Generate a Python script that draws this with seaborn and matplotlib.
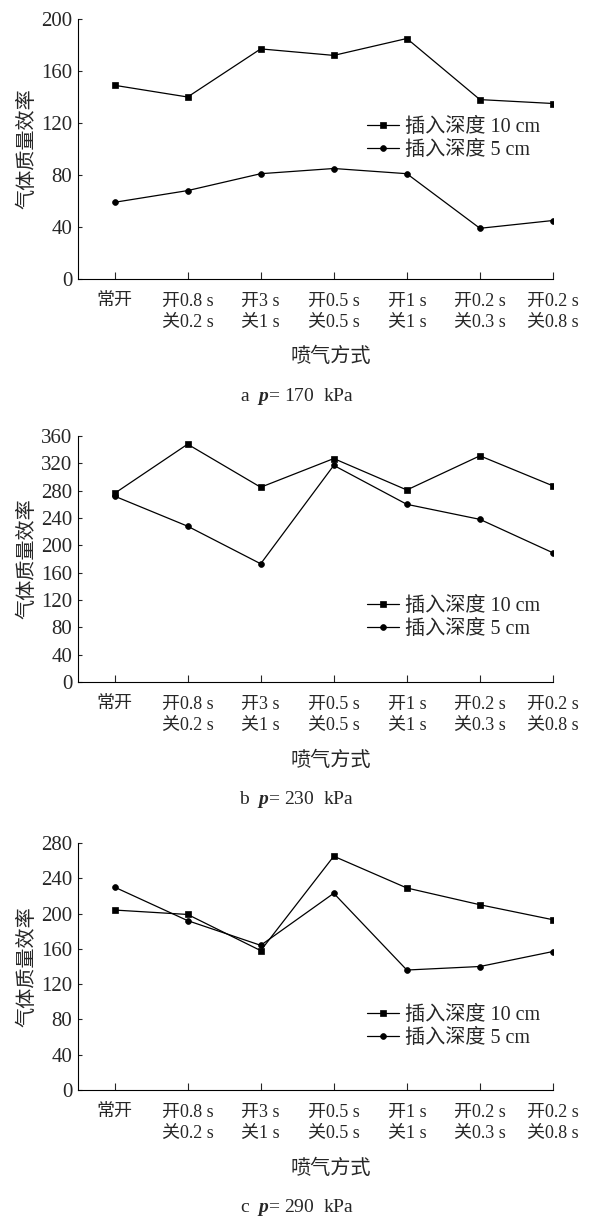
import matplotlib
matplotlib.use("Agg")
import matplotlib.pyplot as plt
import numpy as np
import pandas as pd
import seaborn as sns

# Injection modes (x categories)
modes = ["常开", "开0.8 s\n关0.2 s", "开3 s\n关1 s", "开0.5 s\n关0.5 s",
         "开1 s\n关1 s", "开0.2 s\n关0.3 s", "开0.2 s\n关0.8 s"]
series_names = ["插入深度 10 cm", "插入深度 5 cm"]

# Gas mass efficiency, p = 170 kPa
a_depth10 = [149, 140, 177, 172, 185, 138, 135]
a_depth5 = [59, 68, 81, 85, 81, 39, 45]
# p = 230 kPa
b_depth10 = [276, 348, 285, 327, 281, 331, 287]
b_depth5 = [272, 228, 173, 317, 260, 238, 189]
# p = 290 kPa
c_depth10 = [204, 199, 158, 265, 229, 210, 193]
c_depth5 = [230, 192, 164, 223, 136, 140, 157]

captions = ["a  $p$= 170  kPa", "b  $p$= 230  kPa", "c  $p$= 290  kPa"]
y_max = [200, 360, 280]
y_label = "气体质量效率"
x_label = "喷气方式"

sns.set_style("ticks")
plt.rcParams["font.family"] = ["Liberation Serif", "Noto Sans CJK SC"]
plt.rcParams["mathtext.fontset"] = "custom"
plt.rcParams["mathtext.it"] = "Liberation Serif:italic:bold"
plt.rcParams["mathtext.rm"] = "Liberation Serif"

W, H = 594, 1220
fig = plt.figure(figsize=(W / 100, H / 100), dpi=100)

# axes boxes in pixels: (left, top, right, bottom)
boxes = [(78, 19, 553, 279), (78, 436, 553, 682), (78, 843, 553, 1090)]
legend_y = [139, 618, 1027]

panels = [(a_depth10, a_depth5), (b_depth10, b_depth5), (c_depth10, c_depth5)]
xpos = np.arange(len(modes))

for i, ((d10, d5), (l, t, r, b)) in enumerate(zip(panels, boxes)):
    ax = fig.add_axes([l / W, 1 - b / H, (r - l) / W, (b - t) / H])
    df = pd.DataFrame({
        "x": np.concatenate([xpos, xpos]),
        "y": np.concatenate([d10, d5]),
        "series": [series_names[0]] * len(xpos) + [series_names[1]] * len(xpos),
    })
    sns.lineplot(data=df, x="x", y="y", hue="series", style="series",
                 hue_order=series_names, style_order=series_names,
                 palette=["black", "black"],
                 markers={series_names[0]: "s", series_names[1]: "o"},
                 dashes=False, linewidth=0.9, markersize=4.2,
                 markeredgecolor="black", markeredgewidth=0.5, ax=ax)
    ax.set_xlim(-0.5, 6)
    ax.set_ylim(0, y_max[i])
    ax.set_yticks(np.arange(0, y_max[i] + 1, 40))
    ax.set_xticks(xpos)
    ax.set_xticklabels(modes, fontsize=13, linespacing=1.3, va="top")
    ax.tick_params(axis="y", direction="in", length=3, width=0.8,
                   labelsize=15, pad=4)
    ax.tick_params(axis="x", direction="in", length=5, width=0.8, pad=10)
    for s in ["top", "right"]:
        ax.spines[s].set_visible(False)
    for s in ["left", "bottom"]:
        ax.spines[s].set_linewidth(0.8)
        ax.spines[s].set_color("black")
    ax.set_ylabel(y_label, fontsize=14.5, family="Noto Sans CJK SC", labelpad=3)
    ax.set_xlabel("")
    handles, labels = ax.get_legend_handles_labels()
    ax.legend(handles, labels, frameon=False, loc="center left",
              bbox_to_anchor=((367 - l) / (r - l), (b - legend_y[i]) / (b - t)),
              borderpad=0, borderaxespad=0, handlelength=1.6,
              handletextpad=0.3, labelspacing=0.2, fontsize=14.5)
    # axis title and panel caption
    fig.text(331 / W, 1 - (b + 78) / H, x_label, ha="center", va="center",
             fontsize=14.5, family="Noto Sans CJK SC")
    fig.text(297 / W, 1 - (b + 118) / H, captions[i], ha="center", va="center",
             fontsize=14)

fig.savefig("out.png", dpi=100)
